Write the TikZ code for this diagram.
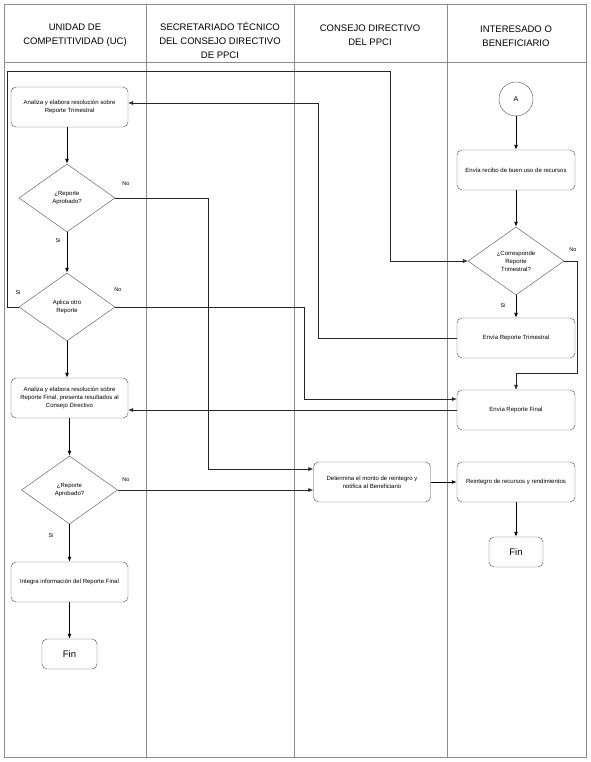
\documentclass[tikz,border=0pt]{standalone}
\usepackage{fontspec}
\setmainfont{Liberation Sans}
\usetikzlibrary{arrows.meta,positioning,shapes.geometric,calc}
\definecolor{lane}{HTML}{8C8C8C}
\definecolor{edge}{HTML}{4D4D4D}

\begin{document}
\begin{tikzpicture}[x=1pt, y=-1pt, font=\fontsize{6}{8}\selectfont, >={Latex[length=5pt,width=4pt]}]
  \tikzset{
    task/.style={draw=edge, rounded corners=5pt, minimum width=117pt, minimum height=40pt, align=center, inner sep=2pt},
    decision/.style={diamond, draw=edge, minimum width=96pt, minimum height=68pt, align=center, inner sep=0pt},
    finbox/.style={draw=edge, rounded corners=5pt, minimum width=55pt, minimum height=30pt, font=\fontsize{9.5}{11}\selectfont},
    lanehead/.style={font=\fontsize{9.5}{14}\selectfont, align=center},
    flow/.style={->, line width=0.9pt},
    link/.style={->, draw=black!85, line width=0.55pt},
    tag/.style={font=\fontsize{5.5}{7}\selectfont}
  }
  \useasboundingbox (0,0) rectangle (590,762);
  % swimlanes
  \draw[lane, line width=0.8pt] (4,4) rectangle (586,757);
  \foreach \x in {146,294,447}
    \draw[lane, line width=0.8pt] (\x,4) -- (\x,757);
  \draw[lane, line width=0.8pt] (4,62) -- (586,62);
  \node[lanehead] (hUC) at (75,35) {UNIDAD DE\\COMPETITIVIDAD (UC)};
  \node[lanehead] (hST) at (220,40) {SECRETARIADO TÉCNICO\\DEL CONSEJO DIRECTIVO\\DE PPCI};
  \node[lanehead] (hCD) at (370,35) {CONSEJO DIRECTIVO\\DEL PPCI};
  \node[lanehead] (hIB) at (516,36) {INTERESADO O\\BENEFICIARIO};

  % UC lane
  \node[task] (ana1) at (69.5,107) {Analiza y elabora resolución sobre\\Reporte Trimestral};
  \node[decision] (aprob1) at (67,198) {¿Reporte\\Aprobado?};
  \node[decision] (otro) at (67,307) {Aplica otro\\Reporte};
  \node[task] (ana2) at (69.5,398) {Analiza y elabora resolución sobre\\Reporte Final, presenta resultados al\\Consejo Directivo};
  \node[decision] (aprob2) at (69.5,490) {¿Reporte\\Aprobado?};
  \node[task] (integra) at (69.5,582) {Integra información del Reporte Final};
  \node[finbox] (fin1) at (69.5,654) {Fin};

  % Consejo lane
  \node[task] (monto) at (372,482) {Determina el monto de reintegro y\\notifica al Beneficiario};

  % Beneficiario lane
  \node[circle, draw=edge, minimum size=34pt, inner sep=0pt, font=\fontsize{7}{8}\selectfont] (A) at (516,99) {A};
  \node[task, minimum width=118pt] (recibo) at (516,170) {Envía recibo de buen uso de recursos};
  \node[decision] (corresp) at (516,261) {¿Corresponde\\Reporte\\Trimestral?};
  \node[task, minimum width=118pt] (trim) at (516,338) {Envía Reporte Trimestral};
  \node[task, minimum width=118pt] (final) at (516,410) {Envía Reporte Final};
  \node[task, minimum width=118pt] (reint) at (516,482) {Reintegro de recursos y rendimientos};
  \node[finbox, minimum width=54pt] (fin2) at (516,552) {Fin};

  % bend points
  \coordinate (kNo1) at (208,469);
  \coordinate (kSi2) at (7,71);
  \coordinate (kLoop) at (390,261);
  \coordinate (kNo2) at (304,399);
  \coordinate (kTrim) at (318,103);
  \coordinate (kNo3) at (577,373);

  % main flow
  \draw[flow] (ana1.south -| aprob1) -- (aprob1.north);
  \draw[flow] (aprob1.south) -- (otro.north);
  \draw[flow] (otro.south) -- (otro.south |- ana2.north);
  \draw[flow] (ana2.south) -- (aprob2.north);
  \draw[flow] (aprob2.south) -- (integra.north);
  \draw[flow] (integra.south) -- (fin1.north);
  \draw[flow] (A.south) -- (recibo.north);
  \draw[flow] (recibo.south) -- (corresp.north);
  \draw[flow] (corresp.south) -- (trim.north);
  \draw[flow] (reint.south) -- (fin2.north);
  \draw[flow] (monto.east) -- (reint.west);

  % cross-lane links
  \draw[link] (aprob1.east) -| (kNo1) -- (monto.west |- kNo1);
  \draw[link] (otro.west) -| (kSi2) -| (kLoop) -- (corresp.west);
  \draw[link] (otro.east) -| (kNo2) -- (final.west |- kNo2);
  \draw[link] (trim.west) -| (kTrim) -- (ana1.east |- kTrim);
  \draw[link] (corresp.east) -| (kNo3) -| (final.north);
  \draw[link] (final.west) -- (ana2.east |- final.west);
  \draw[link] (aprob2.east) -- (monto.west |- aprob2.east);

  % labels
  \node[tag] (no1) at (126,184) {No};
  \node[tag] (si1) at (58,241) {Si};
  \node[tag] (si2) at (18,293) {Si};
  \node[tag] (no2) at (118,290) {No};
  \node[tag] (no4) at (126,480) {No};
  \node[tag] (si4) at (51,536) {Si};
  \node[tag] (no3) at (573,250) {No};
  \node[tag] (si3) at (503,306) {Si};
\end{tikzpicture}
\end{document}
